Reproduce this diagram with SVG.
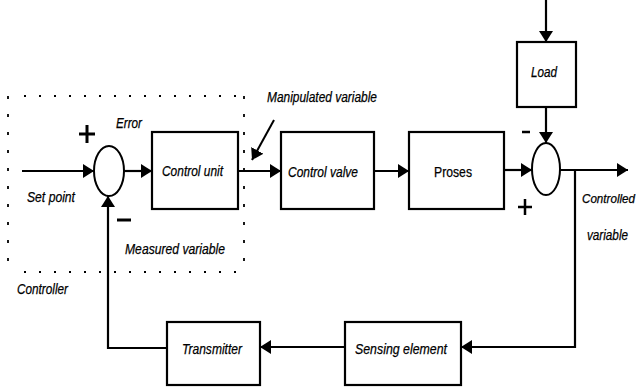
<svg xmlns="http://www.w3.org/2000/svg" width="641" height="388" viewBox="0 0 641 388">
<style>
.box{fill:#fff;stroke:#000;stroke-width:2.2}
.sum{fill:#fff;stroke:#000;stroke-width:2}
.ln{fill:none;stroke:#000;stroke-width:2.2}
.t{font-family:"Liberation Sans",Arial,sans-serif;font-size:14.5px;font-style:italic;fill:#000;stroke:#000;stroke-width:0.25}
.tn{font-family:"Liberation Sans",Arial,sans-serif;font-size:14.5px;fill:#000;stroke:#000;stroke-width:0.25}
.dot{fill:none;stroke:#000;stroke-width:1.8;stroke-dasharray:2 13}
.sign{fill:none;stroke:#000;stroke-width:3}
</style>
<defs>
<marker id="ah" markerUnits="userSpaceOnUse" markerWidth="12" markerHeight="14" refX="11" refY="7" orient="auto">
<path d="M0,0 L11,7 L0,14 z" fill="#000"/>
</marker>
</defs>
<g id="controller-frame">
<path class="dot" d="M24,96 H244"/>
<path class="dot" d="M24,272 H244"/>
<path class="dot" d="M8,96 V272" style="stroke-dasharray:3 15"/>
<path class="dot" d="M244,96 V272" style="stroke-dasharray:3 15"/>
<text class="t" x="17" y="294" textLength="51" lengthAdjust="spacingAndGlyphs">Controller</text>
</g>
<g id="connectors">
<line class="ln" x1="22" y1="171" x2="94" y2="171" marker-end="url(#ah)"/>
<line class="ln" x1="124" y1="171" x2="152" y2="171" marker-end="url(#ah)"/>
<line class="ln" x1="238" y1="171" x2="281" y2="171" marker-end="url(#ah)"/>
<line class="ln" x1="374" y1="171" x2="409" y2="171" marker-end="url(#ah)"/>
<line class="ln" x1="504" y1="170" x2="532" y2="170" marker-end="url(#ah)"/>
<line class="ln" x1="546" y1="0" x2="546" y2="42" marker-end="url(#ah)"/>
<line class="ln" x1="546" y1="107" x2="546" y2="143" marker-end="url(#ah)"/>
<line class="ln" x1="560" y1="170" x2="628" y2="170" marker-end="url(#ah)"/>
<polyline class="ln" points="575,170 575,347 461,347" marker-end="url(#ah)"/>
<line class="ln" x1="345" y1="347" x2="260" y2="347" marker-end="url(#ah)"/>
<polyline class="ln" points="167,348 108,348 108,196" marker-end="url(#ah)"/>
<line class="ln" x1="274" y1="120" x2="252" y2="160" style="stroke-width:2" marker-end="url(#ah)"/>
</g>
<g id="sum1">
<ellipse class="sum" cx="109" cy="171" rx="15" ry="25"/>
<path class="sign" d="M79,134 H95 M87,125 V143"/>
<path class="sign" d="M117,220 H131"/>
</g>
<g id="control-unit">
<rect class="box" x="152" y="132" width="86" height="77"/>
<text class="t" x="162" y="176" textLength="61" lengthAdjust="spacingAndGlyphs">Control unit</text>
</g>
<g id="control-valve">
<rect class="box" x="281" y="132" width="93" height="77"/>
<text class="t" x="288" y="177" textLength="70" lengthAdjust="spacingAndGlyphs">Control valve</text>
</g>
<g id="proses">
<rect class="box" x="409" y="132" width="95" height="77"/>
<text class="tn" x="434" y="177" textLength="38" lengthAdjust="spacingAndGlyphs">Proses</text>
</g>
<g id="load">
<rect class="box" x="517" y="42" width="59" height="65"/>
<text class="t" x="531" y="77" textLength="26" lengthAdjust="spacingAndGlyphs">Load</text>
</g>
<g id="sum2">
<ellipse class="sum" cx="546" cy="169" rx="14" ry="26"/>
<path class="sign" d="M522,132 H530" style="stroke-width:2.5"/>
<path class="sign" d="M518,207 H532 M525,199 V215" style="stroke-width:2.5"/>
</g>
<g id="transmitter">
<rect class="box" x="167" y="322" width="93" height="63"/>
<text class="t" x="182" y="354" textLength="60" lengthAdjust="spacingAndGlyphs">Transmitter</text>
</g>
<g id="sensing-element">
<rect class="box" x="345" y="322" width="116" height="63"/>
<text class="t" x="355" y="354" textLength="92" lengthAdjust="spacingAndGlyphs">Sensing element</text>
</g>
<g id="labels">
<text class="t" x="27" y="202" textLength="48" lengthAdjust="spacingAndGlyphs">Set point</text>
<text class="t" x="116" y="128" textLength="26" lengthAdjust="spacingAndGlyphs">Error</text>
<text class="t" x="125" y="254" textLength="100" lengthAdjust="spacingAndGlyphs">Measured variable</text>
<text class="t" x="267" y="102" textLength="110" lengthAdjust="spacingAndGlyphs">Manipulated variable</text>
<text class="t" x="582" y="203" style="font-size:12.5px" textLength="53" lengthAdjust="spacingAndGlyphs">Controlled</text>
<text class="t" x="587" y="240" textLength="41" lengthAdjust="spacingAndGlyphs">variable</text>
</g>
</svg>
